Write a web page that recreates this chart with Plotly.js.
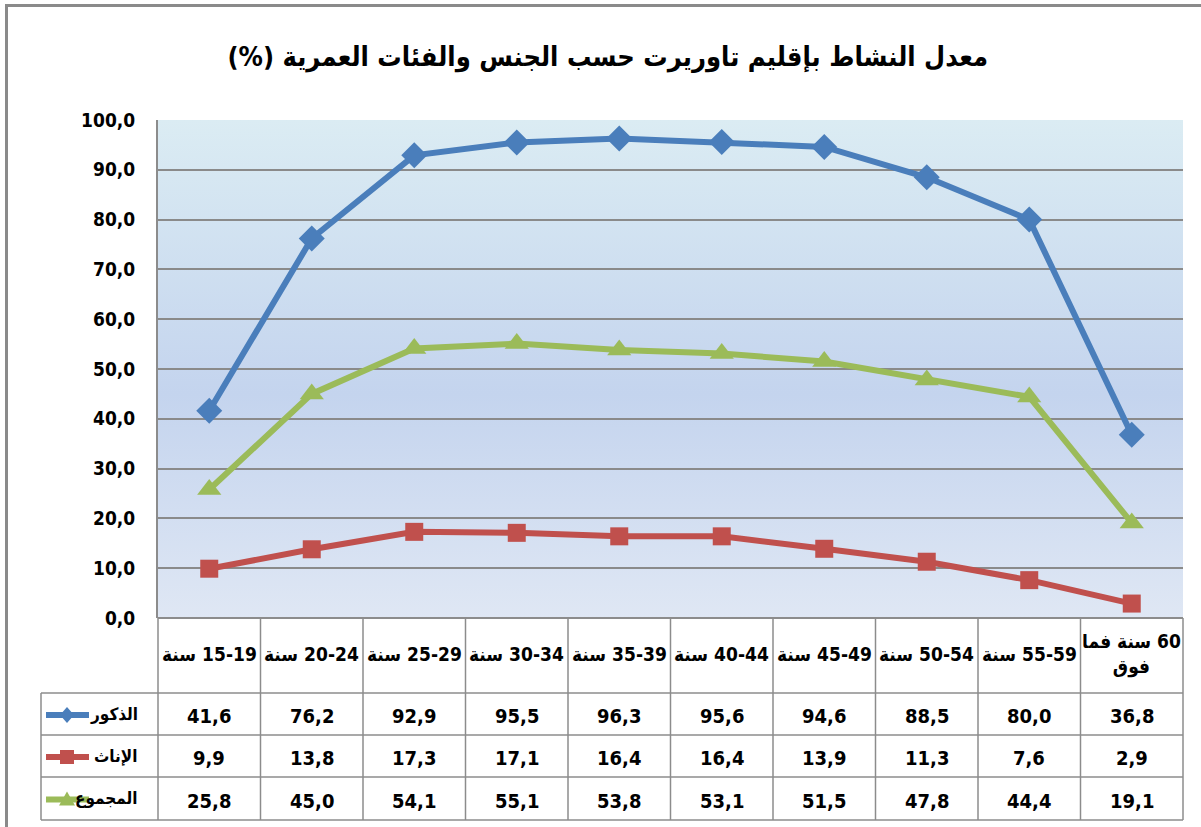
<!DOCTYPE html>
<html><head><meta charset="utf-8">
<script src="https://cdn.plot.ly/plotly-3.0.1.min.js"></script>
<style>html,body{margin:0;padding:0;background:#fff}#chart{width:1201px;height:827px}</style>
</head><body><div id="chart"></div>
<script>
// ---- data ----
const categories = ['15-19 سنة','20-24 سنة','25-29 سنة','30-34 سنة','35-39 سنة','40-44 سنة','45-49 سنة','50-54 سنة','55-59 سنة','60 سنة فما فوق'];
const tickLabels = ['15-19 سنة','20-24 سنة','25-29 سنة','30-34 سنة','35-39 سنة','40-44 سنة','45-49 سنة','50-54 سنة','55-59 سنة','60 سنة فما<br>فوق'];
const seriesNames = ['الذكور','الإناث','المجموع'];
const males   = [41.6,76.2,92.9,95.5,96.3,95.6,94.6,88.5,80.0,36.8];
const females = [9.9,13.8,17.3,17.1,16.4,16.4,13.9,11.3,7.6,2.9];
const total   = [25.8,45.0,54.1,55.1,53.8,53.1,51.5,47.8,44.4,19.1];
const yTicks  = [0,10,20,30,40,50,60,70,80,90,100];
const titleText = 'معدل النشاط بإقليم تاوريرت حسب الجنس والفئات العمرية (%)';

// ---- styling ----
const W = 1201, H = 827;
const M = {l:158, r:18, t:120, b:209};
const PW = W - M.l - M.r, PH = H - M.t - M.b;
const px = x => (x - M.l) / PW;
const py = y => (H - M.b - y) / PH;
const colors = ['#4a7ebb','#c0504d','#9bbb59'];
const symbols = ['diamond','square','triangle-up'];
const msizes = [20,18,21];
const series = [males, females, total];
const RLE = '\u202B', PDF = '\u202C';
const rtl = s => s.split('<br>').map(p => RLE + p + PDF).join('<br>');
const fmt = v => v.toFixed(1).replace('.', ',');
const condFam = 'Liberation Sans Narrow, DejaVu Sans Condensed, sans-serif';
const numFont = {family:condFam, size:20, color:'#000', weight:'bold'};
const arFont = {family:'DejaVu Sans Condensed, DejaVu Sans, sans-serif', size:17, color:'#000', weight:'bold'};
const gridC = '#8a8a8a', tableC = '#8c8c8c';

const traces = series.map((s, k) => ({
  type:'scatter', mode:'lines+markers', x:categories, y:s, name:seriesNames[k],
  line:{color:colors[k], width:6},
  marker:{symbol:symbols[k], size:msizes[k], color:colors[k]},
  cliponaxis:false, hoverinfo:'skip'
}));

const shapes = [];
const annotations = [];
// outer chart border (top & left)
shapes.push({type:'line', xref:'paper', yref:'paper', x0:px(5), x1:px(W), y0:py(5.5), y1:py(5.5), line:{color:'#8a8a8a', width:3}});
shapes.push({type:'line', xref:'paper', yref:'paper', x0:px(6.5), x1:px(6.5), y0:py(4), y1:py(H), line:{color:'#8a8a8a', width:3}});

// table geometry
const hdrTop = 618, hdrBot = 693, rowEdges = [693,735,777,820], leftX = 41;
shapes.push({type:'line', xref:'paper', yref:'paper', x0:0, x1:1, y0:py(hdrTop), y1:py(hdrTop), line:{color:tableC, width:2}});
rowEdges.forEach(y => shapes.push({type:'line', xref:'paper', yref:'paper', x0:px(leftX), x1:1, y0:py(y), y1:py(y), line:{color:tableC, width:1.5}}));
shapes.push({type:'line', xref:'paper', yref:'paper', x0:0, x1:0, y0:py(hdrTop), y1:py(rowEdges[3]), line:{color:tableC, width:1.5}});
shapes.push({type:'line', xref:'paper', yref:'paper', x0:1, x1:1, y0:py(hdrTop), y1:py(rowEdges[3]), line:{color:tableC, width:1.5}});
shapes.push({type:'line', xref:'paper', yref:'paper', x0:px(leftX), x1:px(leftX), y0:py(rowEdges[0]), y1:py(rowEdges[3]), line:{color:tableC, width:1.5}});
for (let i = 0; i < categories.length - 1; i++) {
  shapes.push({type:'line', xref:'x', yref:'paper', x0:i+0.5, x1:i+0.5, y0:py(hdrTop), y1:py(rowEdges[3]), line:{color:tableC, width:1.5}});
}
// header labels
categories.forEach((c, i) => {
  annotations.push({xref:'x', yref:'paper', x:c, y:py(654), xanchor:'center', yanchor:'middle', text:rtl(tickLabels[i]), showarrow:false,
    font:{family:condFam, size:19, color:'#000', weight:'bold'}, align:'center'});
});
// rows
series.forEach((s, k) => {
  const yc = (rowEdges[k] + rowEdges[k+1]) / 2 + 2;
  s.forEach((v, i) => annotations.push({xref:'x', yref:'paper', x:categories[i], y:py(yc), xanchor:'center', yanchor:'middle', text:fmt(v), showarrow:false, font:numFont}));
  annotations.push({xref:'paper', yref:'paper', x:px(140), y:py(yc - 2), xanchor:'right', yanchor:'middle', text:seriesNames[k], showarrow:false, font:arFont});
  // legend key: line + marker
  const ky = yc - 1;
  shapes.push({type:'line', xref:'paper', yref:'paper', x0:px(46), x1:px(89), y0:py(ky), y1:py(ky), line:{color:colors[k], width:6}});
  const cx = 67;
  let path;
  if (k === 0) path = `M ${px(cx)} ${py(ky-8)} L ${px(cx+7)} ${py(ky)} L ${px(cx)} ${py(ky+8)} L ${px(cx-7)} ${py(ky)} Z`;
  if (k === 1) path = `M ${px(cx-7)} ${py(ky-7)} L ${px(cx+7)} ${py(ky-7)} L ${px(cx+7)} ${py(ky+7)} L ${px(cx-7)} ${py(ky+7)} Z`;
  if (k === 2) path = `M ${px(cx)} ${py(ky-8)} L ${px(cx+8)} ${py(ky+6)} L ${px(cx-8)} ${py(ky+6)} Z`;
  shapes.push({type:'path', xref:'paper', yref:'paper', path:path, fillcolor:colors[k], line:{width:0}});
});

// gradient background for plot area
const svg = `<svg xmlns="http://www.w3.org/2000/svg" width="100" height="100" preserveAspectRatio="none"><defs><linearGradient id="g" x1="0" y1="0" x2="0" y2="1"><stop offset="0" stop-color="#dbecf3"/><stop offset="0.55" stop-color="#c4d4ee"/><stop offset="1" stop-color="#dfe7f4"/></linearGradient></defs><rect width="100" height="100" fill="url(#g)"/></svg>`;
const img = 'data:image/svg+xml;base64,' + btoa(svg);

const layout = {
  width:W, height:H, margin:M,
  paper_bgcolor:'#fff', plot_bgcolor:'rgba(0,0,0,0)',
  showlegend:false, separators:', ',
  title:{text:rtl(titleText), x:0.506, xanchor:'center', y:1-57/H, yanchor:'middle',
    font:{family:'DejaVu Sans Condensed, DejaVu Sans, sans-serif', size:27, color:'#000', weight:'bold'}},
  xaxis:{type:'category', range:[-0.5, 9.5], showticklabels:false, showgrid:false, zeroline:false, showline:false, fixedrange:true},
  yaxis:{range:[0,100], tickvals:yTicks, ticktext:yTicks.map(fmt), showgrid:true, gridcolor:gridC, gridwidth:2,
    zeroline:false, showline:true, linecolor:tableC, linewidth:2, ticks:'', ticklabelstandoff:17,
    tickfont:{family:condFam, size:19, color:'#000', weight:'bold'}, fixedrange:true},
  images:[{source:img, xref:'x domain', yref:'y domain', x:0, y:1, sizex:1, sizey:1, sizing:'stretch', xanchor:'left', yanchor:'top', layer:'below'}],
  shapes:shapes, annotations:annotations
};
Plotly.newPlot('chart', traces, layout, {displayModeBar:false, staticPlot:true});
</script>
</body></html>
